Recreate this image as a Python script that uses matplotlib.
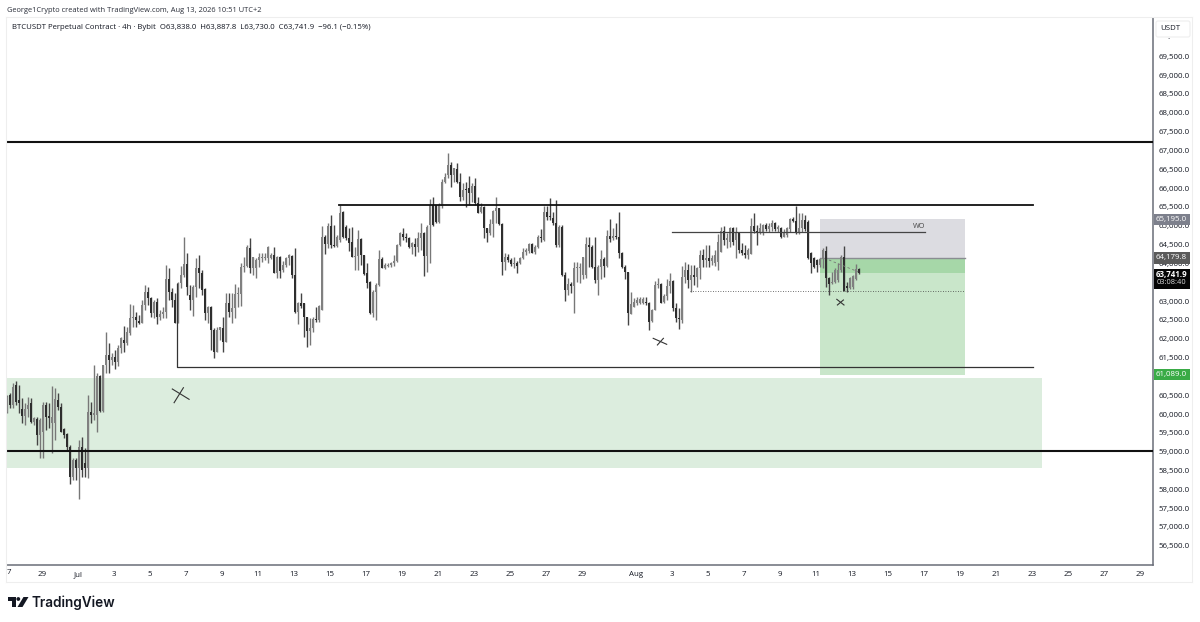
import matplotlib
matplotlib.use("Agg")
import matplotlib.pyplot as plt
from matplotlib.patches import Rectangle, FancyBboxPatch, Polygon, Circle

plt.rcParams['font.family'] = ['Open Sans', 'DejaVu Sans']

opens = [60062,60504,60239,60770,60372,60124,59947,60124,60283,59796,59858,59442,59531,60239,59947,59752,59752,60372,60195,59593,
59469,59133,58336,58779,58557,59133,58708,58557,60062,59973,59973,61009,60088,61301,61566,61434,61505,61389,61743,61965,
61876,62142,62540,62567,62478,62425,62894,63248,63071,62673,62982,62584,62655,62717,63575,63248,63027,62425,63487,63690,
63983,63159,63027,63381,63867,63752,63310,62690,62832,62230,61655,62230,62274,61920,62938,62717,62805,63186,63186,63894,
63929,64398,63867,63867,64089,64133,64133,64133,64133,64221,63752,64160,63823,63956,64133,64195,63690,62717,62938,62938,
62584,62213,62274,62513,62496,62761,64708,64513,64991,64487,64460,64620,65372,64956,64664,64575,64177,64195,64655,64221,
63752,63513,62690,63248,63425,64106,63867,63929,63956,64000,64071,64487,64779,64691,64664,64425,64513,64425,64664,64814,
64195,65018,65549,65549,65106,65522,66168,66345,66611,66345,66496,66168,65770,65965,65991,65859,66053,65611,65372,65505,
64929,64797,65045,65399,65460,65045,64044,64177,64089,63983,64000,64000,64133,64310,64337,64513,64310,64425,64691,64620,
65372,65239,65195,65062,64487,64956,63690,63292,63451,63407,63867,63867,63690,63690,64487,64443,63894,63558,63912,64106,
63929,64726,64664,64726,64708,64266,63912,63761,62655,62850,62938,62938,62938,62982,62956,62478,62761,63425,63451,62982,
63133,63398,63540,62805,62540,62496,63628,63823,63558,63690,63628,63867,64221,64089,64133,64071,64000,64044,64310,64868,
64620,64575,64929,64620,64797,64354,64266,64221,64248,64991,64868,64841,64841,65018,64903,64974,65062,64903,64929,64708,
64752,64903,65168,65133,64797,64929,65151,65106,64266,64133,64089,63956,64106,64337,63602,63469,63513,63558,63823,64177,
63398,63336,63363,63575,63838]
closes = [60460,60239,60726,60327,60283,59947,60124,60239,59796,59885,59442,59841,60239,59929,59885,59929,60389,60195,59531,59442,
59133,58336,58779,58557,59133,58513,58557,60062,59973,60018,61009,60088,61301,61566,61434,61522,61389,61743,62009,61876,
62186,62540,62567,62496,62407,62894,63248,63071,62673,62982,62584,62655,62717,63575,63248,63027,62425,63487,63690,63983,
63381,63027,63381,63867,63752,63292,62690,62850,62230,61655,62230,62319,61920,62938,62717,62805,63186,63204,63894,63929,
64425,63867,64160,64089,64160,64133,64177,64425,64221,63752,64160,63806,63956,64133,64221,63690,62717,62938,62867,62584,
62213,62274,62513,62496,62867,64708,64513,64991,64487,64460,64691,65345,64691,64664,64549,64177,64195,64655,64221,63717,
63487,62690,63248,63425,64106,63867,63956,63956,64000,64071,64487,64797,64691,64664,64425,64531,64425,64664,64814,64195,
64956,65549,65018,65106,65549,66168,66301,66611,66345,66522,66168,65770,65947,65947,65859,66053,65593,65345,65505,64929,
64797,65045,65399,65460,65045,64044,64177,64089,63983,64000,63929,64133,64310,64354,64513,64283,64443,64691,64664,65372,
65239,65222,65062,64487,64956,63690,63292,63451,63407,63867,63867,63867,64160,64513,64443,63894,63558,63912,64106,63929,
64726,64637,64726,64708,64266,63912,63761,62673,62920,62982,63027,63044,63044,62938,62451,62761,63425,63451,62956,63133,
63398,63540,62805,62540,62513,63628,63823,63558,63690,63628,63867,64221,64089,64133,64071,64133,64221,64575,64868,64620,
64664,64929,64575,64797,64354,64266,64221,64354,64991,64868,64841,64929,65018,64903,64991,65062,64903,64956,64708,64797,
64929,65168,65133,64797,64929,65151,64903,64133,64000,63912,63956,64106,64354,63602,63451,63513,63823,63823,64177,63275,
63336,63602,63664,63841,63742]
highs = [60504,60549,60814,60885,60770,60416,60283,60460,60416,59929,59929,59885,60327,60327,60283,60743,60681,60549,60283,59619,
59504,59177,58823,58823,59310,59398,59088,60504,60327,61301,61080,61035,61301,62168,61876,61611,61699,61832,62053,62336,
62319,62920,62894,62717,62628,63027,63425,63381,63115,63027,63071,62761,62850,63956,63867,63336,63204,63513,63929,64691,
64283,63425,63425,64133,64221,63823,63336,62867,62867,62274,62319,62319,62584,63221,63204,63221,63451,63381,64018,64177,
64487,64664,64177,64133,64266,64266,64266,64460,64266,64425,64195,64195,64071,64177,64248,64221,64398,62982,63221,62956,
62584,62540,62584,62850,62894,64991,64752,65062,65283,65018,64752,65549,65399,65018,64929,64956,64443,64885,64664,64221,
64000,63540,63292,63469,64354,64177,64000,64018,64044,64221,64513,64841,64929,64797,64708,64575,64664,64841,65080,64841,
65018,65699,65753,65549,65611,66230,66390,66921,66699,66522,66673,66390,66124,66168,66319,66124,66257,65753,65593,65522,
64929,65168,65416,65753,65478,65062,64266,64248,64133,64160,64071,64177,64398,64398,64531,64531,64487,64752,64903,65522,
65522,65726,65372,65682,65018,65018,63779,63602,63513,64044,64044,64018,64160,64708,64691,64487,64708,63956,64354,64160,
64885,65168,64929,65062,65372,64310,63956,63779,63248,63071,63097,63115,63097,63097,62982,62779,63540,63602,63487,63186,
63575,63752,63558,62938,62805,63929,64044,63983,63956,63956,63894,64354,64372,64487,64487,64221,64354,64779,64974,64991,
64797,64956,64956,64956,64814,64531,64487,64398,65195,65345,65018,65062,65045,65062,65062,65151,65106,65018,64974,64903,
64974,65195,65239,65522,65345,65328,65283,65151,64310,64177,64106,64133,64398,64460,63628,63779,63867,64000,64221,64460,
63513,63646,63690,63983,63888]
lows = [60018,60150,60150,60239,60018,59770,59708,59929,59752,59708,59177,58823,58823,59575,59619,58956,59310,60106,59531,59354,
59044,58142,58248,58248,57734,58336,58336,58292,59752,59841,59531,60062,60062,61080,61097,61301,61186,61274,61611,61655,
61832,62097,62319,62319,62381,62407,62761,62894,62584,62540,62381,62496,62540,62540,63027,62850,62425,62425,63336,63646,
63159,62761,62602,63115,63336,63159,62496,62425,61699,61478,61655,61965,61655,61920,62584,62425,62540,62850,62867,63779,
63912,63735,63690,63602,63912,64044,64089,64000,64106,63735,63602,63602,63779,63912,63956,63602,62673,62390,62805,62053,
61770,61832,62186,62451,62451,62761,64248,64398,64398,64443,64443,64575,64664,64620,64337,64160,63823,63823,63956,63690,
63336,62655,62584,62496,63407,63867,63841,63894,63894,63929,64044,64460,64620,64575,64398,64248,64195,64310,64354,63664,
63779,64018,64991,65062,65062,65460,66124,66257,66018,66168,66124,65664,65682,65505,65549,65637,65549,65328,65328,64664,
64575,64752,64691,65062,65018,63690,63823,64044,63929,63867,63735,63983,64106,64221,64266,64266,64248,64398,64575,64602,
65151,65151,65018,64443,64443,63664,63009,63159,63204,62690,63513,63469,63575,63602,63912,63867,63469,63159,63575,63646,
63912,64575,64620,64637,64133,63867,63575,62363,62655,62832,62894,62920,62920,62894,62230,62451,62761,63336,62938,62956,
63027,63204,62743,62451,62248,62407,63469,63336,63248,63425,63381,63575,63894,63894,63912,63956,63929,63823,64310,64487,
64398,64443,64487,64133,64266,64221,64133,64106,64248,64814,64487,64779,64752,64868,64841,64868,64868,64841,64682,64708,
64708,64841,65106,64779,64779,64841,64868,64106,63752,63867,63779,63912,63867,63381,63159,63451,63469,63513,63779,63275,
63248,63310,63310,63558,63730]

price_ticks = [p for p in range(56500, 70000, 500) if p not in (61000, 63500)]
date_labels = ['29','Jul','3','5','7','9','11','13','15','17','19','21','23','25','27','29',
               'Aug','3','5','7','9','11','13','15','17','19','21','23','25','27','29']
date_days = [2,4,6,8,10,12,14,16,18,20,22,24,26,28,30,32,
             35,37,39,41,43,45,47,49,51,53,55,57,59,61,63]   # days after 27 Jun

top_line = 67220
low_line = 59010
range_high = 65547
range_low = 61244
wo_level = 64830
zone_top, zone_bottom = 60956, 58562
target, entry, stop = 65175, 64150, 61045
last_close = 63741.9
dotted_level = 63255

W, H = 1200, 622
fig = plt.figure(figsize=(W/100, H/100), dpi=100, facecolor='white')
L, R, T, B = 7, 1153, 18, 565
ax = fig.add_axes([L/W, 1-B/H, (R-L)/W, (B-T)/H])
ax.set_xlim(0, (R-L)/3)
ax.set_ylim(60000+(414-B)*26.56, 60000+(414-T)*26.56)

for s in ['top', 'left']:
    ax.spines[s].set_visible(False)
for s in ['right', 'bottom']:
    ax.spines[s].set_color('#6a6d78')
    ax.spines[s].set_linewidth(1.1)
ax.yaxis.tick_right()
ax.set_yticks(price_ticks)
ax.set_yticklabels([f'{p:,.1f}' for p in price_ticks], fontsize=5.7, color='#131722')
ax.set_xticks([d*6-0.33 for d in date_days])
ax.set_xticklabels(date_labels, fontsize=5.7, color='#131722')
ax.tick_params(axis='x', length=0, pad=4.5)
ax.tick_params(axis='y', length=0, pad=4)

# zones
ax.add_patch(Rectangle((0, zone_bottom), 345, zone_top-zone_bottom, fc='#dcedde', ec='none', zorder=1))
ax.add_patch(Rectangle((271, entry), 48.3, target-entry, fc='#dcdce1', ec='none', zorder=1))
ax.add_patch(Rectangle((271, stop), 48.3, entry-stop, fc='#c9e6ca', ec='none', zorder=1))
ax.add_patch(Rectangle((271, last_close), 48.3, entry-last_close, fc='#a6d7a8', ec='none', zorder=1.1))
ax.plot([271, 319.3], [entry, entry], color='#8a8d92', lw=1.0, zorder=1.2)

# candles
for i, (o, c, h, l) in enumerate(zip(opens, closes, highs, lows)):
    up = c >= o
    wick = '#777777' if up else '#444444'
    body = '#808080' if up else '#2e2e2e'
    ax.vlines(i, l, h, color=wick, lw=1.0, zorder=3)
    ax.bar(i, max(abs(c-o), 25), bottom=min(o, c), width=0.82, color=body, lw=0, zorder=3.2)

# lines
ax.plot([0, 382], [top_line]*2, color='#111111', lw=1.5, zorder=4)
ax.plot([0, 382], [low_line]*2, color='#111111', lw=1.5, zorder=4)
ax.plot([110.7, 342], [range_high]*2, color='#111111', lw=1.3, zorder=4)
ax.plot([56.7, 56.7, 342], [63450, range_low, range_low], color='#333333', lw=0.9, zorder=4)
ax.plot([221.7, 306], [wo_level]*2, color='#444444', lw=0.9, zorder=4)
ax.text(306, wo_level+150, 'WO', fontsize=5.2, color='#444444', ha='right', va='center', zorder=5)
ax.plot([227.7, 319.3], [dotted_level]*2, color='#444444', lw=0.6, ls=(0, (1, 2)), zorder=4)
ax.plot([274, 283.7], [64090, 63778], color='#777777', lw=0.6, ls=(0, (3, 3)), zorder=4)

# hand-drawn crosses
for (a, b, c, d) in [(55.1, 60664, 60.7, 60390), (55.7, 60300, 58.8, 60698),
                     (215.4, 62010, 219.9, 61851), (216.8, 61833, 218.8, 62010),
                     (276.6, 63046, 279.0, 62895), (276.8, 62895, 278.8, 63028)]:
    ax.plot([a, c], [b, d], color='#333333', lw=0.8, zorder=5)

# overlay in image pixels
ov = fig.add_axes([0, 0, 1, 1], facecolor='none')
ov.set_xlim(0, W); ov.set_ylim(H, 0); ov.axis('off')

faint = '#eeeeee'
ov.plot([6, 1192], [17, 17], color=faint, lw=0.8)
ov.plot([6, 6], [17, 582], color=faint, lw=0.8)
ov.plot([6, 1192], [582, 582], color=faint, lw=0.8)
ov.plot([1192, 1192], [17, 582], color=faint, lw=0.8)

ov.text(7, 10, 'George1Crypto created with TradingView.com, Aug 13, 2026 10:51 UTC+2',
        fontsize=5.45, color='#2a2e39', va='center')
ov.text(12, 27.5, 'BTCUSDT Perpetual Contract · 4h · Bybit  O63,838.0  H63,887.8  L63,730.0  C63,741.9  −96.1 (−0.15%)',
        fontsize=5.6, color='#131722', va='center')
ov.text(7, 573, '7', fontsize=5.7, color='#131722', ha='left', va='center')

# USDT box
ov.add_patch(FancyBboxPatch((1156, 21), 34, 16, boxstyle='round,pad=0,rounding_size=2',
                            fc='white', ec='#eeeeee', lw=0.8))
ov.text(1170, 29, 'USDT', fontsize=5.7, color='#131722', ha='center', va='center')
ov.text(1168.5, 40, '·', fontsize=6, color='#131722', ha='center', va='center')

# price labels
def tag(y0, y1, color, txt, sub=None):
    ov.add_patch(Rectangle((1153.5, y0), 36, y1-y0, fc=color, ec='none'))
    if sub:
        ov.text(1171.5, y0+5.5, txt, fontsize=5.7, color='white', ha='center', va='center', fontweight='bold')
        ov.text(1171.5, y0+14, sub, fontsize=5.4, color='#dddddd', ha='center', va='center')
    else:
        ov.text(1171.5, (y0+y1)/2, txt, fontsize=5.7, color='white', ha='center', va='center')

tag(214, 225, '#7d808c', '65,195.0')
tag(252, 263.5, '#5a5a5a', '64,179.8')
tag(269, 288.5, '#050505', '63,741.9', '03:08:40')
tag(369, 380, '#3aab46', '61,089.0')

# TradingView logo
k = '#131722'
ov.add_patch(Polygon([(7.5, 597), (15.5, 597), (15.5, 607), (11.5, 607), (11.5, 600.5), (7.5, 600.5)], fc=k, ec='none'))
ov.add_patch(Circle((18.3, 599), 1.9, fc=k, ec='none'))
ov.add_patch(Polygon([(23.5, 597), (28.5, 597), (22.5, 607), (17.5, 607)], fc=k, ec='none'))
ov.text(32, 602.5, 'TradingView', fontsize=9.8, family=['Inter', 'DejaVu Sans'], fontweight='semibold', color=k, va='center')

fig.savefig('out.png', dpi=100, facecolor='white')
